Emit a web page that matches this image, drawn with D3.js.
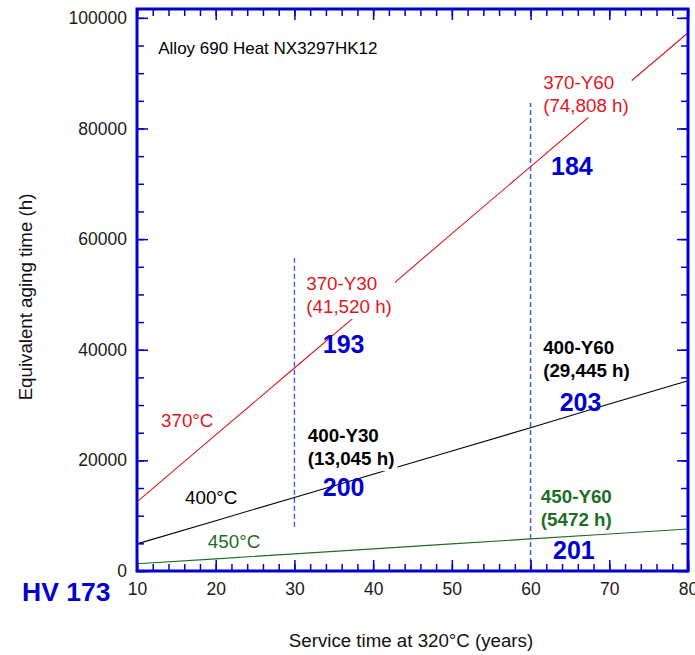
<!DOCTYPE html>
<html>
<head>
<meta charset="utf-8">
<script src="https://cdn.jsdelivr.net/npm/d3@7"></script>
<style>
  body { margin: 0; background: #fff; }
  svg { display: block; font-family: "Liberation Sans", Arial, sans-serif; }
</style>
</head>
<body>
<div id="chart"></div>
<script>
const years = [10, 20, 30, 40, 50, 60, 70, 80];
// equivalent aging time (h) at each aging temperature
const t370 = [12500, 24600, 36700, 48800, 61000, 73100, 85200, 97300];
const t400 = [4900, 9100, 13300, 17500, 21700, 25900, 30200, 34400];
const t450 = [1300, 2200, 3100, 4000, 4900, 5800, 6700, 7600];

const xTicks = [10, 20, 30, 40, 50, 60, 70, 80];
const yTicks = [0, 20000, 40000, 60000, 80000, 100000];

// dashed markers at 30 and 60 years: [year, from, to]
const markers = [[30, 8000, 56600], [60, 0, 84600]];

// hardness values
const hvLabels = [
  { text: "184", x: 62.6, y: 71600 },
  { text: "193", x: 33.6, y: 39400 },
  { text: "200", x: 33.6, y: 13600 },
  { text: "203", x: 63.7, y: 28900 },
  { text: "201", x: 62.85, y: 2200 }
];

const margin = { top: 9, right: 7, bottom: 84, left: 137 },
  width = 695 - margin.left - margin.right,
  height = 655 - margin.top - margin.bottom;

const blue = "#0000d0", red = "#e3161c", green = "#1d6e24";

const svg = d3.select("#chart")
  .append("svg")
  .attr("width", 695)
  .attr("height", 655);

const g = svg.append("g")
  .attr("transform", `translate(${margin.left}, ${margin.top})`);

const x = d3.scaleLinear().domain([10, 80]).range([0, width]);
const y = d3.scaleLinear().domain([0, 101600]).range([height, 0]);

// annotation text blocks (white box behind, cuts the lines like the original)
const notes = [
  { lines: ["370-Y60", "(74,808 h)"], x: 61.6, y: 87200, color: red, bold: false },
  { lines: ["370-Y30", "(41,520 h)"], x: 31.5, y: 50800, color: red, bold: false },
  { lines: ["370°C"], x: 13.05, y: 26000, color: red, bold: false },
  { lines: ["400-Y30", "(13,045 h)"], x: 31.7, y: 23300, color: "#000", bold: true },
  { lines: ["400°C"], x: 16.1, y: 12100, color: "#000", bold: false },
  { lines: ["450°C"], x: 19.0, y: 4200, color: green, bold: false },
  { lines: ["400-Y60", "(29,445 h)"], x: 61.6, y: 39200, color: "#000", bold: true },
  { lines: ["450-Y60", "(5472 h)"], x: 61.3, y: 12300, color: green, bold: true }
];

// dashed year markers
g.selectAll(".marker")
  .data(markers)
  .enter()
  .append("line")
  .attr("class", "marker")
  .attr("x1", d => x(d[0])).attr("x2", d => x(d[0]))
  .attr("y1", d => y(d[1])).attr("y2", d => y(d[2]))
  .attr("stroke", "#4a5ae8")
  .attr("stroke-width", 1.5)
  .attr("stroke-dasharray", "5,3");

// temperature lines
const line = d3.line()
  .x((d, i) => x(years[i]))
  .y(d => y(d));

[[t370, "#d7191c"], [t400, "#000"], [t450, "#1d6e24"]].forEach(([vals, c]) => {
  g.append("path")
    .attr("d", line(vals))
    .attr("fill", "none")
    .attr("stroke", c)
    .attr("stroke-width", 1.1);
});

// text notes with white backgrounds
notes.forEach(n => {
  const tg = g.append("g");
  const bg = tg.append("rect").attr("fill", "#fff");
  const t = tg.append("text")
    .attr("x", x(n.x))
    .attr("y", y(n.y))
    .attr("fill", n.color)
    .style("font-size", "18.8px")
    .style("font-weight", n.bold ? "bold" : "normal");
  n.lines.forEach((s, i) => {
    t.append("tspan")
      .attr("x", x(n.x))
      .attr("dy", i === 0 ? 0 : 23)
      .text(s);
  });
  const b = t.node().getBBox();
  bg.attr("x", b.x - 3).attr("y", b.y - 2)
    .attr("width", b.width + 6).attr("height", b.height + 4);
});

// hardness numbers
g.selectAll(".hv")
  .data(hvLabels)
  .enter()
  .append("text")
  .attr("class", "hv")
  .attr("x", d => x(d.x))
  .attr("y", d => y(d.y))
  .attr("fill", blue)
  .style("font-size", "25px")
  .style("font-weight", "bold")
  .text(d => d.text);

g.append("text")
  .attr("x", x(12.7))
  .attr("y", y(93500))
  .attr("fill", "#000")
  .style("font-size", "17px")
  .text("Alloy 690 Heat NX3297HK12");

// axes: inward ticks on all four sides
const range = (a, b, s) => d3.range(a, b + s / 2, s);
function styleAxis(sel) {
  sel.select(".domain").remove();
  sel.selectAll("line").attr("stroke", blue).attr("stroke-width", 1.5);
  sel.selectAll("text").attr("fill", "#1a1a1a").style("font-size", "17.5px")
    .style("font-family", "'Liberation Sans', Arial, sans-serif");
}

g.append("g").attr("transform", `translate(0, ${height})`)
  .call(d3.axisBottom(x).tickValues(range(10, 80, 2)).tickSize(-7).tickFormat(""))
  .call(styleAxis);
g.append("g").attr("transform", `translate(0, ${height})`)
  .call(d3.axisBottom(x).tickValues(xTicks).tickSize(-11).tickPadding(12).tickFormat(d3.format("d")))
  .call(styleAxis);
g.append("g")
  .call(d3.axisTop(x).tickValues(range(10, 80, 2)).tickSize(-7).tickFormat(""))
  .call(styleAxis);
g.append("g")
  .call(d3.axisTop(x).tickValues(xTicks).tickSize(-11).tickFormat(""))
  .call(styleAxis);

g.append("g")
  .call(d3.axisLeft(y).tickValues(range(0, 100000, 5000)).tickSize(-7).tickFormat(""))
  .call(styleAxis);
g.append("g")
  .call(d3.axisLeft(y).tickValues(yTicks).tickSize(-11).tickPadding(10).tickFormat(d3.format("d")))
  .call(styleAxis);
g.append("g").attr("transform", `translate(${width}, 0)`)
  .call(d3.axisRight(y).tickValues(range(0, 100000, 5000)).tickSize(-7).tickFormat(""))
  .call(styleAxis);
g.append("g").attr("transform", `translate(${width}, 0)`)
  .call(d3.axisRight(y).tickValues(yTicks).tickSize(-11).tickFormat(""))
  .call(styleAxis);

// frame
g.append("rect")
  .attr("width", width)
  .attr("height", height)
  .attr("fill", "none")
  .attr("stroke", blue)
  .attr("stroke-width", 3);

// axis titles
svg.append("text")
  .attr("x", 411)
  .attr("y", 647)
  .attr("text-anchor", "middle")
  .attr("fill", "#111")
  .style("font-size", "18.7px")
  .text("Service time at 320°C (years)");

svg.append("text")
  .attr("transform", "translate(32, 297) rotate(-90)")
  .attr("text-anchor", "middle")
  .attr("fill", "#111")
  .style("font-size", "18.7px")
  .text("Equivalent aging time (h)");

svg.append("text")
  .attr("x", 22)
  .attr("y", 601)
  .attr("fill", blue)
  .style("font-size", "26.5px")
  .style("font-weight", "bold")
  .text("HV 173");
</script>
</body>
</html>
